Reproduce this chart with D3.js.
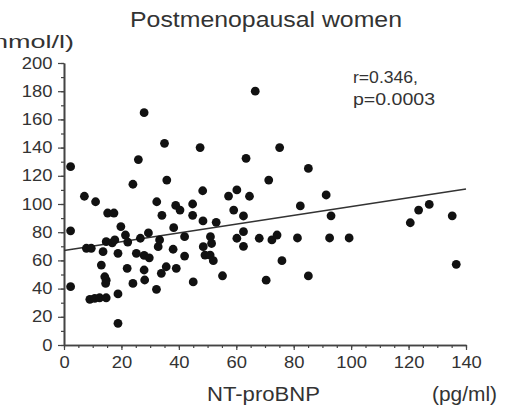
<!DOCTYPE html>
<html>
<head>
<meta charset="utf-8">
<script src="https://cdn.jsdelivr.net/npm/d3@7/dist/d3.min.js"></script>
<style>
	html, body { margin: 0; padding: 0; background: #fff; }
	svg { display: block; }
	text { font-family: 'Liberation Sans', Arial, sans-serif; fill: #333; }
</style>
</head>
<body>
<div id="chart"></div>
<script>
// NT-proBNP (pg/ml) and hormone level (nmol/l)
let ntProBNP	= [2.3, 2.3, 2.3, 7.1, 11, 15.2, 17.4, 24, 25.9, 27.9,
	35, 35.8, 32.3, 34.1, 38.9, 40.4, 38.2, 44.8, 44.8, 47.4,
	48.3, 48.4, 53, 57.3, 60.2, 59.1, 62.5, 63.4, 64.6, 62.5,
	66.6, 75.1, 85.1, 71.3, 91.3, 82.3, 93, 123.5, 127.2, 120.6,
	135.2, 136.6, 60.2, 62.5, 68, 72.4, 74.2, 81.3, 92.5, 99.3,
	75.9, 70.4, 85.1, 51, 51.4, 48.5, 49.1, 50.9, 52, 45,
	55.2, 42, 42, 39.1, 38, 33.9, 35.6, 32.8, 33.3, 32.2,
	27.9, 29.7, 27.9, 28.1, 25.2, 24, 22, 18.8, 18.8, 18.8,
	13, 14.2, 14.7, 14.5, 9, 10.7, 12.4, 14.7, 7.8, 9.5,
	13.6, 14.7, 16.8, 17.7, 19.8, 21.4, 22.2, 26.6, 29.4];

let nmol		= [126.5, 81, 41.4, 105.5, 101.6, 93.6, 93.6, 114, 131.5, 164.8,
	143, 117, 101.6, 92, 99, 95.7, 83.2, 100, 92, 140,
	109.4, 88, 87, 105.6, 110, 95.7, 91.5, 132.4, 105.5, 80.4,
	180, 140, 125.2, 117, 106.4, 98.6, 91.6, 95.7, 99.7, 86.7,
	91.6, 57.2, 75.7, 70, 75.7, 74.5, 78, 75.9, 75.9, 75.9,
	59.8, 46, 49, 76.8, 72, 69.7, 63.8, 63.8, 59.8, 44.7,
	49.1, 76.8, 63.1, 54.4, 67.9, 50.8, 55.5, 69.7, 74.5, 39.5,
	63.5, 61.8, 53.2, 46.1, 65, 43.7, 54.4, 36.2, 15.4, 65,
	56.7, 48.4, 46, 43.7, 32.4, 33, 33.5, 33.5, 68.6, 68.6,
	66.2, 73.3, 72.5, 74.5, 84, 78, 73, 75.7, 79.5];

let xMajor		= d3.range(0, 141, 20);
let xMinor		= d3.range(0, 141, 5);
let yMajor		= d3.range(0, 201, 20);
let yMinor		= d3.range(0, 201, 10);

let fitLine		= [[0, 67], [140, 110.6]];	// regression r=0.346
let statLines	= ['r=0.346,', 'p=0.0003'];

let titleText	= 'Postmenopausal women';
let xLabel		= 'NT-proBNP';
let xUnit		= '(pg/ml)';
let yUnit		= '(nmol/l)';

let width	= 506;
let height	= 410;
let stretch	= 1.15;

let svg = d3.select('#chart').append('svg')
	.attr('width', width)
	.attr('height', height);

let x = d3.scaleLinear().domain([0, 140]).range([64, 466]);
let y = d3.scaleLinear().domain([0, 200]).range([345, 63]);

// axes
let xAxis = svg.append('g')
	.attr('transform', 'translate(0,' + y(0) + ')')
	.call(d3.axisBottom(x).tickValues(xMajor).tickSize(5).tickPadding(6).tickSizeOuter(0));

svg.append('g')
	.attr('transform', 'translate(0,' + y(0) + ')')
	.call(d3.axisBottom(x).tickValues(xMinor).tickSize(3).tickFormat('').tickSizeOuter(0));

let yAxis = svg.append('g')
	.attr('transform', 'translate(' + x(0) + ',0)')
	.call(d3.axisLeft(y).tickValues(yMajor).tickSize(6).tickPadding(4).tickSizeOuter(0));

svg.append('g')
	.attr('transform', 'translate(' + x(0) + ',0)')
	.call(d3.axisLeft(y).tickValues(yMinor).tickSize(3).tickFormat('').tickSizeOuter(0));

svg.selectAll('.domain').attr('stroke', '#444').attr('stroke-width', 1.6);
svg.selectAll('.tick line').attr('stroke', '#444').attr('stroke-width', 1.2);
svg.selectAll('.tick text')
	.style('font-size', '16px')
	.attr('fill', '#333');

xAxis.selectAll('.tick text').attr('transform', 'scale(' + stretch + ',1)').attr('dy', '0.75em');
yAxis.selectAll('.tick text').attr('transform', 'scale(' + stretch + ',1)');

// regression line
svg.append('path')
	.datum(fitLine)
	.attr('d', d3.line().x(d => x(d[0])).y(d => y(d[1])))
	.attr('fill', 'none')
	.attr('stroke', '#333')
	.attr('stroke-width', 1.5);

// points
svg.append('g').selectAll('circle')
	.data(ntProBNP.map((v, i) => [v, nmol[i]]))
	.enter().append('circle')
		.attr('cx', d => x(d[0]))
		.attr('cy', d => y(d[1]))
		.attr('r', 4.4)
		.attr('fill', '#111');

// texts
function label(txt, px, py, size, anchor, len) {
	let t = svg.append('text')
		.attr('x', px)
		.attr('y', py)
		.attr('text-anchor', anchor || 'start')
		.style('font-size', size + 'px')
		.text(txt);
	if (len) t.attr('textLength', len).attr('lengthAdjust', 'spacingAndGlyphs');
	return t;
}

label(titleText, 266, 27, 22, 'middle', 272);
label(yUnit, -16, 48, 18, 'start', 90);
label(xLabel, 207, 401, 20, 'start', 113);
label(xUnit, 432, 401, 20, 'start', 65);

statLines.forEach((s, i) => label(s, 353, 83 + i * 22, 16, 'start', i ? 82 : 65));
</script>
</body>
</html>
